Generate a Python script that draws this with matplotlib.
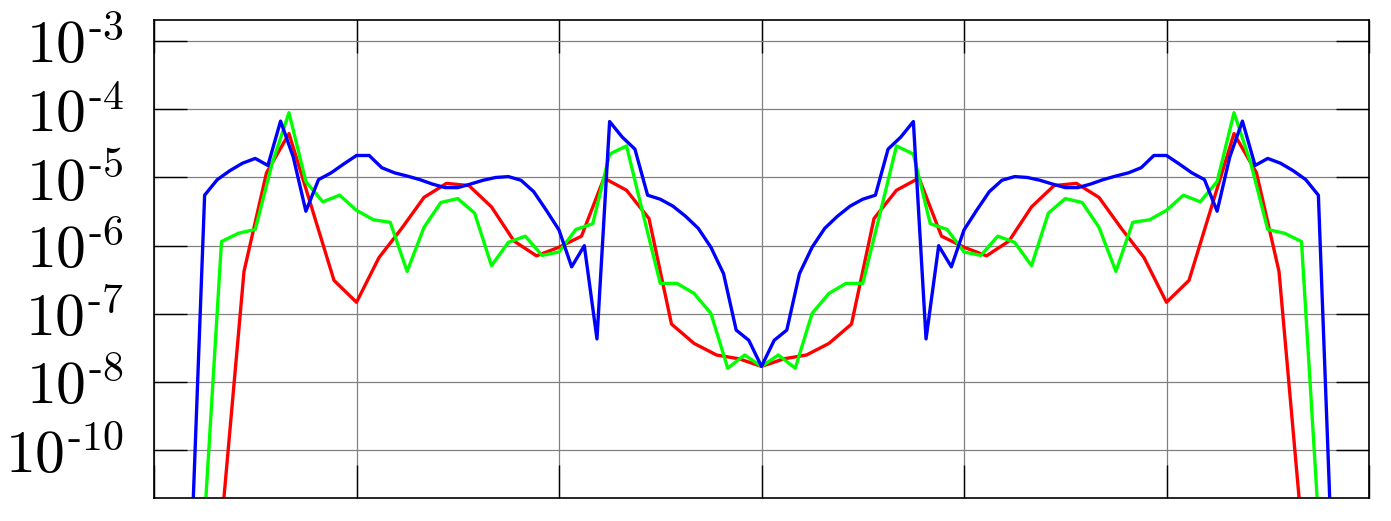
import numpy as np
import matplotlib
matplotlib.use('Agg')
import matplotlib.pyplot as plt
from matplotlib.ticker import FixedLocator, NullFormatter, NullLocator

plt.rcParams['mathtext.fontset'] = 'cm'

# Red series, one point every 1/9 of a grid unit, starting at x = 3/9
red = [8e-11, 4.2e-7, 1.17e-5, 4.4e-5, 3.7e-6, 3.1e-7, 1.48e-7, 6.7e-7, 1.78e-6,
       5.1e-6, 8.2e-6, 7.6e-6, 3.7e-6, 1.17e-6, 7.1e-7, 9.5e-7, 1.38e-6, 9.8e-6,
       6.5e-6, 2.5e-6, 7.1e-8, 3.7e-8, 2.5e-8, 2.2e-8,
       1.7e-8,
       2.2e-8, 2.5e-8, 3.7e-8, 7.1e-8, 2.5e-6, 6.5e-6, 9.8e-6, 1.38e-6, 9.5e-7,
       7.1e-7, 1.17e-6, 3.7e-6, 7.6e-6, 8.2e-6, 5.1e-6, 1.78e-6, 6.7e-7, 1.48e-7,
       3.1e-7, 3.7e-6, 4.4e-5, 1.17e-5, 4.2e-7, 8e-11]

# Green series, one point every 1/12 of a grid unit, starting at x = 3/12
green = [1e-10, 1.15e-6, 1.52e-6, 1.73e-6, 1.6e-5, 8.9e-5, 8.7e-6, 4.4e-6, 5.5e-6,
         3.3e-6, 2.4e-6, 2.2e-6, 4.2e-7, 1.86e-6, 4.3e-6, 4.9e-6, 3.0e-6, 5.1e-7,
         1.12e-6, 1.38e-6, 7.2e-7, 8.1e-7, 1.73e-6, 2.1e-6, 2.2e-5, 2.9e-5, 2.8e-6,
         2.8e-7, 2.8e-7, 2.0e-7, 1.02e-7, 1.6e-8, 2.5e-8,
         1.7e-8,
         2.5e-8, 1.6e-8, 1.02e-7, 2.0e-7, 2.8e-7, 2.8e-7, 2.8e-6, 2.9e-5, 2.2e-5,
         2.1e-6, 1.73e-6, 8.1e-7, 7.2e-7, 1.38e-6, 1.12e-6, 5.1e-7, 3.0e-6, 4.9e-6,
         4.3e-6, 1.86e-6, 4.2e-7, 2.2e-6, 2.4e-6, 3.3e-6, 5.5e-6, 4.4e-6, 8.7e-6,
         8.9e-5, 1.6e-5, 1.73e-6, 1.52e-6, 1.15e-6, 1e-10]

# Blue series, one point every 1/16 of a grid unit, starting at x = 3/16
blue = [6e-11, 5.5e-6, 9.3e-6, 1.26e-5, 1.62e-5, 1.9e-5, 1.5e-5, 6.7e-5, 2.0e-5,
        3.2e-6, 9.3e-6, 1.17e-5, 1.58e-5, 2.1e-5, 2.1e-5, 1.39e-5, 1.17e-5, 1.05e-5,
        9.3e-6, 8.0e-6, 7.1e-6, 7.1e-6, 8.0e-6, 9.1e-6, 1.0e-5, 1.03e-5, 9.1e-6,
        6.2e-6, 3.3e-6, 1.7e-6, 4.9e-7, 1.0e-6, 4.3e-8, 6.6e-5, 3.9e-5, 2.6e-5,
        5.5e-6, 4.8e-6, 3.8e-6, 2.7e-6, 1.8e-6, 9.5e-7, 3.9e-7, 5.8e-8, 4.1e-8,
        1.7e-8,
        4.1e-8, 5.8e-8, 3.9e-7, 9.5e-7, 1.8e-6, 2.7e-6, 3.8e-6, 4.8e-6, 5.5e-6,
        2.6e-5, 3.9e-5, 6.6e-5, 4.3e-8, 1.0e-6, 4.9e-7, 1.7e-6, 3.3e-6, 6.2e-6,
        9.1e-6, 1.03e-5, 1.0e-5, 9.1e-6, 8.0e-6, 7.1e-6, 7.1e-6, 8.0e-6, 9.3e-6,
        1.05e-5, 1.17e-5, 1.39e-5, 2.1e-5, 2.1e-5, 1.58e-5, 1.17e-5, 9.3e-6, 3.2e-6,
        2.0e-5, 6.7e-5, 1.5e-5, 1.9e-5, 1.62e-5, 1.26e-5, 9.3e-6, 5.5e-6, 6e-11]

# y tick positions and their printed exponents (last one is printed as -10)
ytick_vals = [1e-3, 1e-4, 1e-5, 1e-6, 1e-7, 1e-8, 1e-9]
ytick_exps = ['-3', '-4', '-5', '-6', '-7', '-8', '-10']

x_red = (np.arange(len(red)) + 3) / 9
x_green = (np.arange(len(green)) + 3) / 12
x_blue = (np.arange(len(blue)) + 3) / 16

fig = plt.figure(figsize=(13.91, 5.21), dpi=100)
ax = fig.add_axes([154 / 1391, 1 - 498 / 521, 1215 / 1391, 478 / 521])

ax.plot(x_red, red, color='#ff0000', lw=2.4)
ax.plot(x_green, green, color='#00ff00', lw=2.4)
ax.plot(x_blue, blue, color='#0000ff', lw=2.4)

ax.set_yscale('log')
ax.set_xlim(0, 6)
ax.set_ylim(10 ** -9.698, 10 ** -2.692)

ax.xaxis.set_major_locator(FixedLocator([0, 1, 2, 3, 4, 5, 6]))
ax.xaxis.set_major_formatter(NullFormatter())
ax.xaxis.set_minor_locator(NullLocator())
ax.yaxis.set_major_locator(FixedLocator(ytick_vals))
ax.yaxis.set_minor_locator(NullLocator())
ax.set_yticklabels([r'$10^{\text{-}%s}$' % e.lstrip('-') for e in ytick_exps])

ax.tick_params(which='major', direction='in', length=24, width=1.0, color='black',
               top=True, right=True, bottom=True, left=True)
ax.tick_params(axis='y', labelsize=43, pad=22)
ax.grid(True, color='#808080', lw=0.9)
ax.set_axisbelow(True)
for s in ax.spines.values():
    s.set_linewidth(1.2)

fig.savefig('out.png', dpi=100)
